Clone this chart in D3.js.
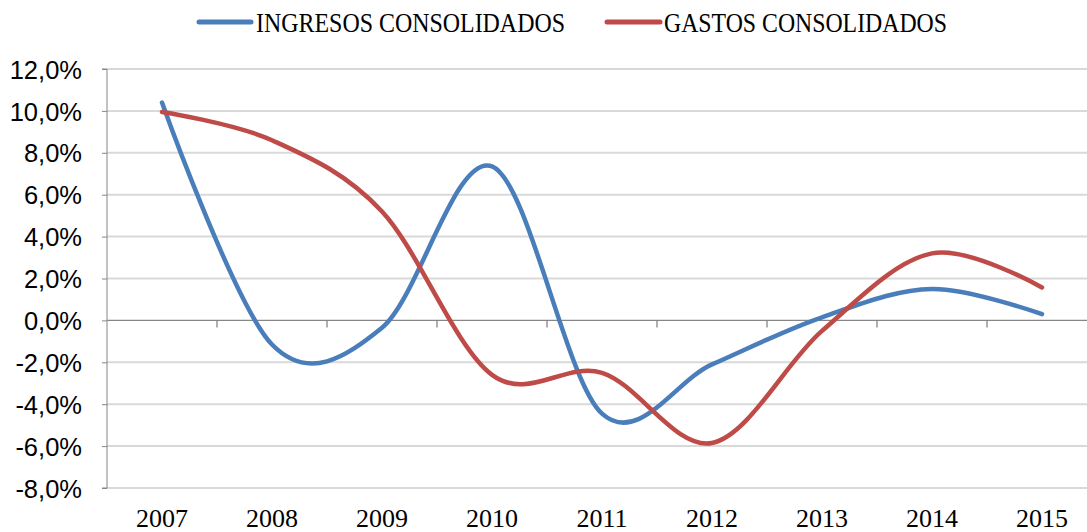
<!DOCTYPE html>
<html>
<head>
<meta charset="utf-8">
<script src="https://cdn.jsdelivr.net/npm/d3@7"></script>
<style>
  html, body { margin: 0; padding: 0; background: #fff; }
  svg { display: block; }
</style>
</head>
<body>
<svg id="chart" width="1087" height="532"></svg>
<script>
const years = ["2007","2008","2009","2010","2011","2012","2013","2014","2015"];
const ingresos = [10.4, -1.15, -0.35, 7.35, -4.45, -2.1, 0.15, 1.5, 0.3];
const gastos = [9.95, 8.6, 5.2, -2.6, -2.5, -5.85, -0.5, 3.2, 1.57];
const yTicks = [-8, -6, -4, -2, 0, 2, 4, 6, 8, 10, 12];
const seriesNames = ["INGRESOS CONSOLIDADOS", "GASTOS CONSOLIDADOS"];
const colors = ["#4A7EBB", "#BE4B48"];

(function () {
const svg = d3.select("#chart");
const plotLeft = 107, plotTop = 69, plotBottom = 488;
const x = d3.scaleBand().domain(years).range([plotLeft, plotLeft + 110 * years.length]).paddingInner(0).paddingOuter(0);
const y = d3.scaleLinear().domain([-8, 12]).range([plotBottom, plotTop]);
const cx = d => x(d) + x.bandwidth() / 2;

// gridlines
svg.append("g").selectAll("line").data(yTicks.filter(v => v !== 0)).join("line")
  .attr("x1", plotLeft).attr("x2", 1087)
  .attr("y1", d => y(d)).attr("y2", d => y(d))
  .attr("stroke", "#d9d9d9").attr("stroke-width", 2);

// y axis
const yAxis = d3.axisLeft(y).tickValues(yTicks).tickSize(5).tickPadding(20)
  .tickFormat(d => d.toFixed(1).replace(".", ",") + "%");
const gy = svg.append("g").attr("transform", `translate(${plotLeft},0)`).call(yAxis);
gy.selectAll("path, line").attr("stroke", "#868686");
gy.select(".domain").attr("d", `M-5,${y(12)}H0V${y(-8)}H-5`);
gy.selectAll("text").attr("font-family", "'Liberation Sans', Arial, sans-serif")
  .attr("font-size", 25.5).attr("fill", "#000").attr("dy", "0.36em");

// zero axis with category boundary ticks
svg.append("line").attr("x1", plotLeft).attr("x2", 1087).attr("y1", y(0)).attr("y2", y(0))
  .attr("stroke", "#868686").attr("stroke-width", 1.3);
svg.append("g").selectAll("line").data(years.slice(1)).join("line")
  .attr("x1", d => x(d)).attr("x2", d => x(d))
  .attr("y1", y(0)).attr("y2", y(0) + 7)
  .attr("stroke", "#868686").attr("stroke-width", 1.3);

// x labels
const xAxis = d3.axisBottom(x).tickSize(0).tickPadding(0);
const gx = svg.append("g").attr("transform", `translate(0,509)`).call(xAxis);
gx.select(".domain").remove();
gx.selectAll("text").attr("font-family", "'Liberation Serif', 'Times New Roman', serif")
  .attr("font-size", 26).attr("fill", "#000").attr("dy", "0.71em");

// lines
const line = d3.line().x((d, i) => cx(years[i])).y(d => y(d)).curve(d3.curveCardinal.tension(0));
[ingresos, gastos].forEach((s, k) => {
  svg.append("path").datum(s).attr("d", line)
    .attr("fill", "none").attr("stroke", colors[k]).attr("stroke-width", 4.5)
    .attr("stroke-linecap", "round").attr("stroke-linejoin", "round");
});

// legend
const legendItems = [
  { x1: 199, x2: 251, tx: 256, w: 309 },
  { x1: 607, x2: 660, tx: 664, w: 283 }
];
legendItems.forEach((it, k) => {
  svg.append("line").attr("x1", it.x1).attr("x2", it.x2).attr("y1", 22).attr("y2", 22)
    .attr("stroke", colors[k]).attr("stroke-width", 5).attr("stroke-linecap", "round");
  svg.append("text").attr("x", it.tx).attr("y", 32)
    .attr("font-family", "'Liberation Serif', 'Times New Roman', serif")
    .attr("font-size", 27).attr("fill", "#000")
    .attr("textLength", it.w).attr("lengthAdjust", "spacingAndGlyphs")
    .text(seriesNames[k]);
});
})();
</script>
</body>
</html>
